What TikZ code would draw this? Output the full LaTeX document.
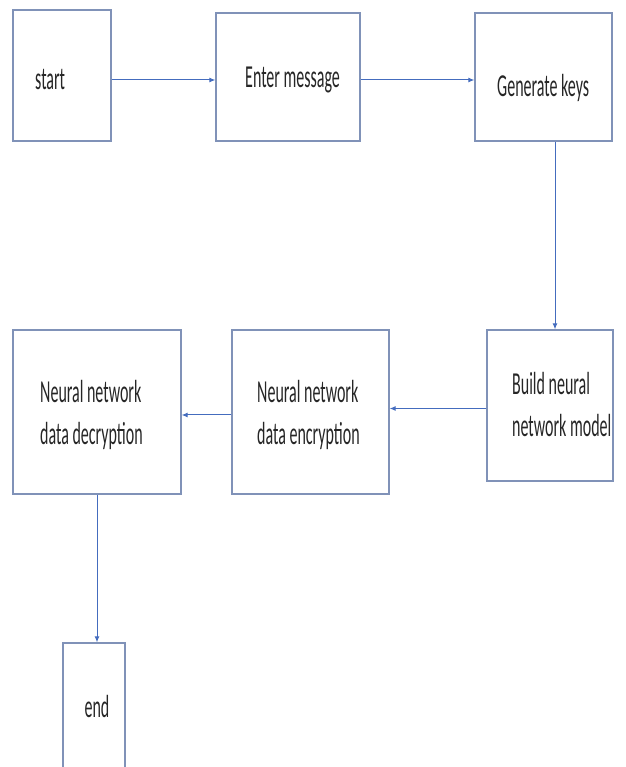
\documentclass[tikz,border=0pt]{standalone}
\usepackage{fontspec}
\setmainfont{Carlito}[FakeStretch=0.5]
\usetikzlibrary{arrows.meta,calc}

\definecolor{boxline}{RGB}{128,146,184}
\definecolor{arrblue}{RGB}{68,108,190}

\begin{document}
\begin{tikzpicture}[x=1pt,y=1pt,
  box/.style={rectangle, draw=boxline, line width=1.3pt, inner sep=0pt},
  txt/.style={inner sep=0pt, align=left, anchor=west,
    font=\fontsize{32}{42}\selectfont, text=black!85},
  arr/.style={-{Latex[length=6pt,width=5pt]}, arrblue, line width=1pt},
]
\useasboundingbox (0,0) rectangle (625,767);

% top row
\node[box, minimum width=98pt,  minimum height=131pt] (start) at (62,691.5)  {};
\node[box, minimum width=144pt, minimum height=128pt] (msg)   at (288,690)   {};
\node[box, minimum width=137pt, minimum height=128pt] (keys)  at (543.5,690) {};

% middle row
\node[box, minimum width=126pt, minimum height=151pt] (build) at (550,361.5) {};
\node[box, minimum width=157pt, minimum height=164pt] (enc)   at (310.5,355) {};
\node[box, minimum width=168pt, minimum height=164pt] (dec)   at (97,355)    {};

% last box, runs off the page
\node[box, minimum width=62pt,  minimum height=127pt] (end)   at (94,60.5)   {};

% texts
\node[txt] (start-t) at (35,687)  {start};
\node[txt] (msg-t)   at (245,687) {Enter message};
\node[txt] (keys-t)  at (497,679) {Generate keys};
\node[txt] (build-t) at (512,362.5) {Build neural\\network model};
\node[txt] (enc-t)   at (257,352) {Neural network\\data encryption};
\node[txt] (dec-t)   at (40,352)  {Neural network\\data decryption};
\node[txt, anchor=center] (end-t) at (97,60) {end};

% arrows
\draw[arr] ([yshift=-4.5pt]start.east) -- ([yshift=-4.5pt]start.east -| msg.west);
\draw[arr] ([yshift=-3pt]msg.east) -- ([yshift=-3pt]msg.east -| keys.west);
\draw[arr] ([xshift=11.5pt]keys.south) -- ([xshift=11.5pt]keys.south |- build.north);
\draw[arr] ([yshift=-3pt]build.west) -- ([yshift=-3pt]build.west -| enc.east);
\draw[arr] ([yshift=-3pt]enc.west) -- ([yshift=-3pt]enc.west -| dec.east);
\draw[arr] (dec.south) -- (dec.south |- end.north);
\end{tikzpicture}
\end{document}
